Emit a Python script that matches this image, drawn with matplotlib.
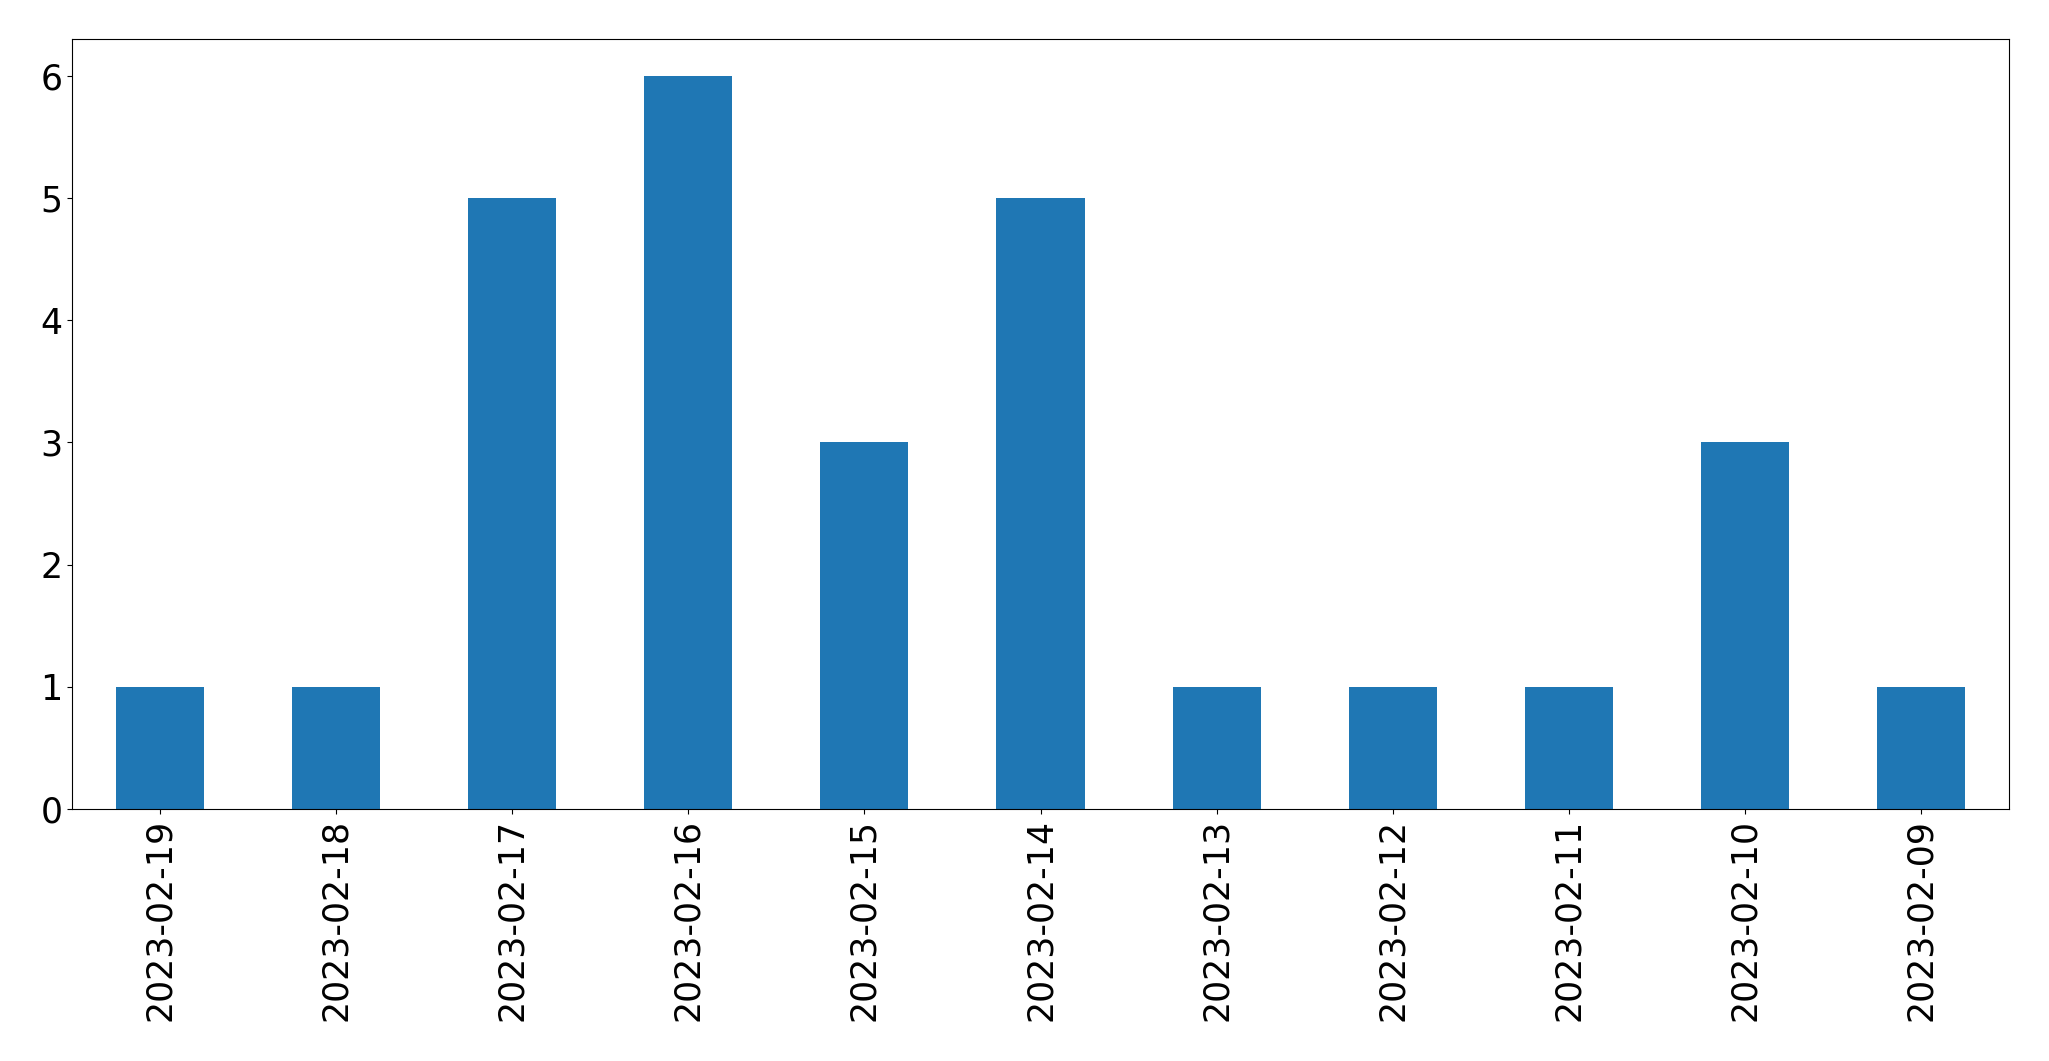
import matplotlib
matplotlib.use("Agg")
import matplotlib.pyplot as plt
import pandas as pd

dates = ['2023-02-19', '2023-02-18', '2023-02-17', '2023-02-16', '2023-02-15',
         '2023-02-14', '2023-02-13', '2023-02-12', '2023-02-11', '2023-02-10',
         '2023-02-09']
counts = [1, 1, 5, 6, 3, 5, 1, 1, 1, 3, 1]

s = pd.Series(counts, index=dates)

fig, ax = plt.subplots(figsize=(20.49, 10.61), dpi=100)
s.plot(kind='bar', ax=ax, fontsize=25)
fig.subplots_adjust(left=72/2049, right=2009/2049, top=1-39/1061, bottom=1-809/1061)
fig.savefig('out.png', dpi=100)
